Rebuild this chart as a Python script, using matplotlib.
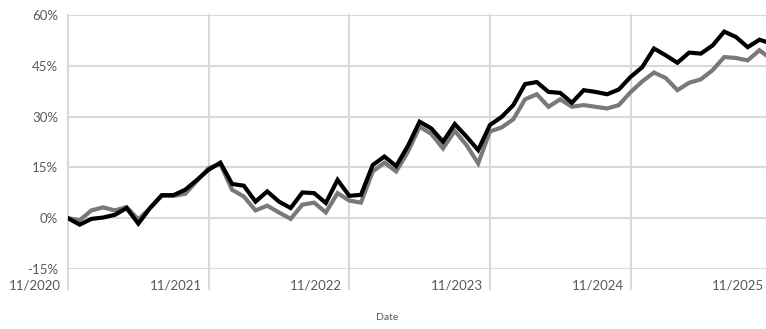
import matplotlib
matplotlib.use("Agg")
import matplotlib.pyplot as plt
import matplotlib.transforms as mtransforms
import numpy as np

months = list(range(61))  # monthly index starting 11/2020
black_series = [0, -1.9, -0.2, 0.2, 1.0, 3.0, -1.6, 3.0, 6.8, 6.8, 8.4, 11.3, 14.3, 16.4, 10.1, 9.6,
                4.9, 7.9, 4.9, 3.0, 7.6, 7.4, 4.5, 11.3, 6.6, 6.9, 15.7, 18.2, 15.4, 21.3, 28.5, 26.5,
                22.6, 27.8, 24.1, 20.1, 27.5, 29.9, 33.4, 39.6, 40.2, 37.3, 37.0, 34.1, 37.8, 37.3,
                36.6, 38.0, 41.7, 44.6, 50.1, 48.1, 45.9, 48.9, 48.6, 51.0, 55.1, 53.5, 50.5, 52.7, 51.6]
gray_series = [0, -0.6, 2.3, 3.2, 2.3, 3.3, -0.4, 3.0, 6.6, 6.6, 7.2, 11.0, 14.8, 16.0, 8.4, 6.4,
               2.3, 3.7, 1.7, -0.2, 4.0, 4.6, 1.7, 7.4, 5.2, 4.6, 13.8, 16.4, 13.8, 19.6, 27.0, 24.9,
               20.6, 25.8, 21.6, 16.2, 25.6, 26.8, 29.2, 35.1, 36.6, 32.9, 35.1, 32.9, 33.4, 32.9,
               32.4, 33.4, 37.2, 40.4, 43.0, 41.4, 37.8, 40.0, 41.0, 43.7, 47.6, 47.3, 46.6, 49.6, 47.0]
x_tick_pos = [0, 12, 24, 36, 48, 60]
x_tick_labels = ['11/2020', '11/2021', '11/2022', '11/2023', '11/2024', '11/2025']
y_ticks = [-15, 0, 15, 30, 45, 60]
y_tick_labels = ['-15%', '0%', '15%', '30%', '45%', '60%']

plt.rcParams['font.family'] = ['Lato', 'DejaVu Sans']
W, H = 766, 329
fig = plt.figure(figsize=(W / 100, H / 100), dpi=100)
ax = fig.add_axes([68 / W, 1 - 269 / H, 1 - 68 / W, (269 - 15) / H])

grid_c = '#d9d9d9'
text_c = '#595959'

ax.set_xlim(0, 59.56)
ax.set_ylim(-15, 60)
for s in ax.spines.values():
    s.set_visible(False)

ax.set_yticks(y_ticks)
ax.set_yticklabels(y_tick_labels, color=text_c, fontsize=9.5)
ax.tick_params(axis='y', length=0, pad=7)
ax.set_xticks([])
ax.yaxis.grid(True, color=grid_c, linewidth=1.5)
ax.set_axisbelow(True)

# vertical gridlines extending below the plot area
trans = mtransforms.blended_transform_factory(ax.transData, ax.transAxes)
ext = -20 / 254
for xp, lab in zip(x_tick_pos, x_tick_labels):
    if xp <= 59.56:
        ax.plot([xp, xp], [ext, 1], transform=trans, color=grid_c, linewidth=1.5,
                clip_on=False, zorder=0.5)
    off = mtransforms.offset_copy(trans, fig=fig, x=-7, y=-16, units='dots')
    ax.text(xp, 0, lab, transform=off, ha='right', va='center', color=text_c,
            fontsize=9.5, clip_on=False)

ax.plot(months, gray_series, color='#7a7975', linewidth=3.0, solid_joinstyle='miter', zorder=2)
ax.plot(months, black_series, color='#000000', linewidth=3.0, solid_joinstyle='miter', zorder=3)

fig.text(387 / W, 1 - 318 / H, 'Date', ha='center', va='center', color=text_c, fontsize=7.5)

fig.savefig('out.png', dpi=100)
